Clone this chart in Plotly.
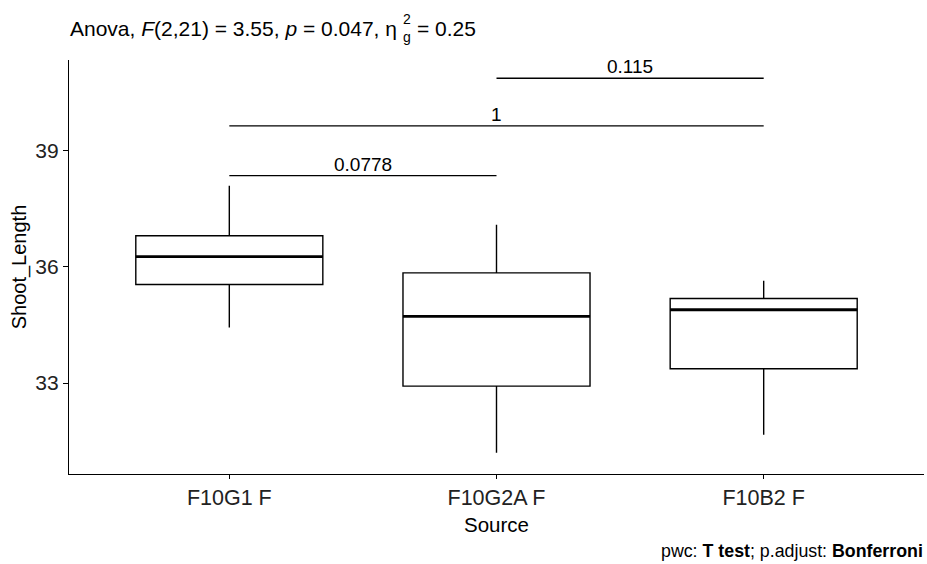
import plotly.graph_objects as go

# Shoot length summary per source (box statistics)
sources = ["F10G1 F", "F10G2A F", "F10B2 F"]
positions = [1, 2, 3]
lower_whisker = [34.43, 31.20, 31.67]
q1 = [35.54, 32.92, 33.37]
median = [36.26, 34.72, 34.89]
q3 = [36.80, 35.84, 35.18]
upper_whisker = [38.09, 37.08, 35.64]

# Pairwise comparisons (T test, Bonferroni adjusted)
pair_start = [1, 1, 2]
pair_end = [2, 3, 3]
pair_y = [38.35, 39.63, 40.86]
pair_p = ["0.0778", "1", "0.115"]

y_ticks = [33, 36, 39]
y_range = [30.655, 41.33]
x_range = [0.4, 3.6]

FONT = "Liberation Sans, Arial, sans-serif"
BOX_W = 0.7

fig = go.Figure()

fig.add_trace(go.Box(
    x=positions, q1=q1, median=median, q3=q3,
    lowerfence=lower_whisker, upperfence=upper_whisker,
    width=BOX_W, whiskerwidth=0,
    fillcolor="white", line=dict(color="black", width=1.4),
    boxpoints=False, showlegend=False, hoverinfo="skip",
))

# thicker median bars
mx, my = [], []
for p, m in zip(positions, median):
    mx += [p - BOX_W / 2, p + BOX_W / 2, None]
    my += [m, m, None]
fig.add_trace(go.Scatter(x=mx, y=my, mode="lines",
                         line=dict(color="black", width=2.8),
                         showlegend=False, hoverinfo="skip"))

# comparison brackets
bx, by = [], []
for a, b, yv in zip(pair_start, pair_end, pair_y):
    bx += [a, b, None]
    by += [yv, yv, None]
fig.add_trace(go.Scatter(x=bx, y=by, mode="lines",
                         line=dict(color="black", width=1.3),
                         showlegend=False, hoverinfo="skip"))

annotations = []
for a, b, yv, lab in zip(pair_start, pair_end, pair_y, pair_p):
    annotations.append(dict(x=(a + b) / 2, y=yv, xref="x", yref="y",
                            text=lab, showarrow=False, yanchor="bottom",
                            yshift=-1, font=dict(size=19, color="black", family=FONT)))

L, R, T, B = 69, 924, 60, 474
W, H = 927, 564


def px(xpix):
    return (xpix - L) / (R - L)


def py(ypix):
    return (B - ypix) / (B - T)


# subtitle with stacked eta-squared indices
annotations += [
    dict(x=px(68), y=py(28), xref="paper", yref="paper", xanchor="left", yanchor="middle",
         text="Anova, <i>F</i>(2,21) = 3.55, <i>p</i> = 0.047, η",
         showarrow=False, font=dict(size=21, color="black", family=FONT)),
    dict(x=px(401), y=py(19), xref="paper", yref="paper", xanchor="left", yanchor="middle",
         text="2", showarrow=False, font=dict(size=14, color="black", family=FONT)),
    dict(x=px(401), y=py(37), xref="paper", yref="paper", xanchor="left", yanchor="middle",
         text="g", showarrow=False, font=dict(size=14, color="black", family=FONT)),
    dict(x=px(415), y=py(28), xref="paper", yref="paper", xanchor="left", yanchor="middle",
         text="= 0.25", showarrow=False, font=dict(size=21, color="black", family=FONT)),
    dict(x=px(925), y=py(551), xref="paper", yref="paper", xanchor="right", yanchor="middle",
         text="pwc: <b>T test</b>; p.adjust: <b>Bonferroni</b>",
         showarrow=False, font=dict(size=17.8, color="black", family=FONT)),
]

fig.update_layout(
    width=W, height=H,
    margin=dict(l=L, r=W - R, t=T, b=H - B, pad=0),
    paper_bgcolor="white", plot_bgcolor="white",
    font=dict(family=FONT, color="black"),
    annotations=annotations,
    showlegend=False,
)

fig.update_xaxes(
    range=x_range, tickvals=positions, ticktext=sources,
    showline=True, linecolor="black", linewidth=1.3,
    ticks="outside", ticklen=4, tickcolor="black", tickwidth=1.3,
    showgrid=False, zeroline=False,
    tickfont=dict(size=21.5, color="#222222"),
    title=dict(text="Source", font=dict(size=20.5, color="black"), standoff=8),
)
fig.update_yaxes(
    range=y_range, tickvals=y_ticks, ticktext=[str(t) for t in y_ticks],
    showline=True, linecolor="black", linewidth=1.3,
    ticks="outside", ticklen=5, tickcolor="black", tickwidth=1.3,
    showgrid=False, zeroline=False,
    tickfont=dict(size=21, color="#222222"),
    title=dict(text="Shoot_Length", font=dict(size=20, color="black"), standoff=3),
)

fig.write_html("out.html")
